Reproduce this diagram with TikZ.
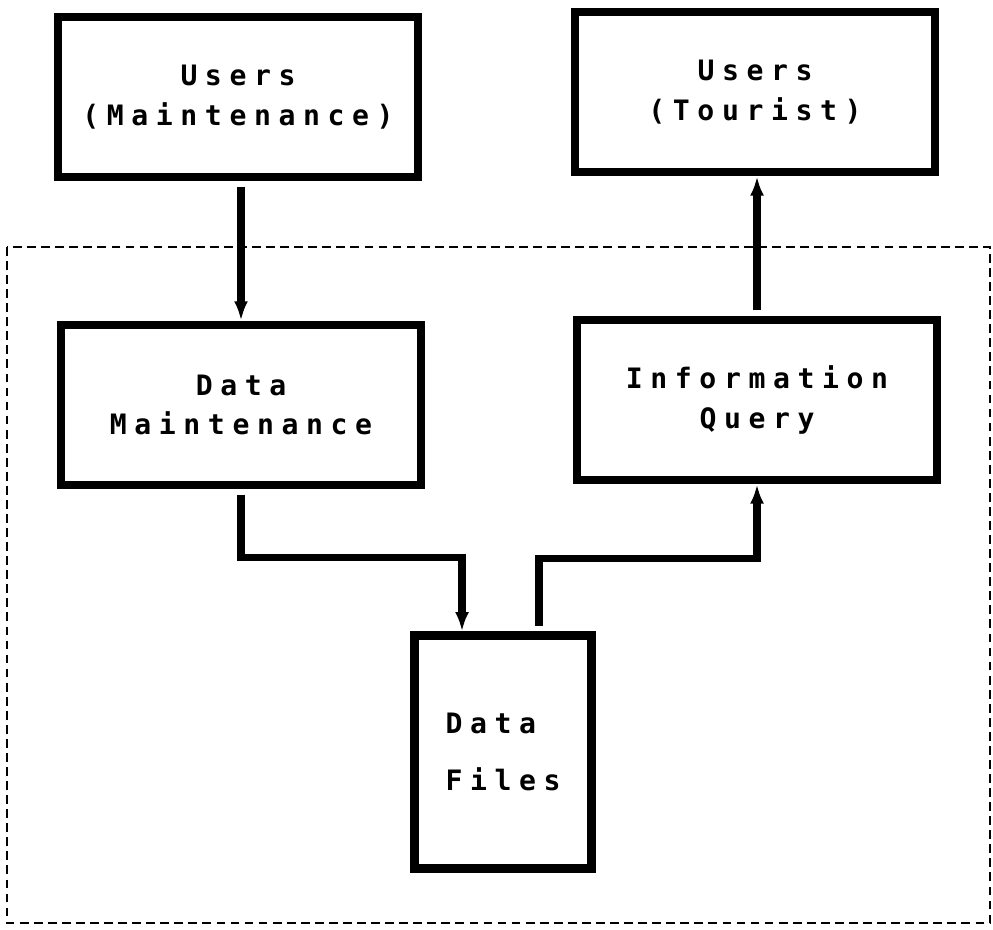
\documentclass[tikz,border=0pt]{standalone}
\usepackage{fontspec}
\newfontfamily\dotfont{DejaVu Sans Mono}[LetterSpace=27]
\usetikzlibrary{arrows.meta,calc}
\tikzset{%
	block/.style    = {draw, rectangle, line width=5pt, minimum width=7.2cm, minimum height=3.2cm, align=center, font=\dotfont\bfseries\fontsize{16}{22.5}\selectfont},
	filebox/.style  = {draw, rectangle, line width=5pt, minimum width=3.55cm, minimum height=4.65cm, align=left, font=\dotfont\bfseries\fontsize{16}{32}\selectfont},
	flow/.style     = {line width=4pt, shorten <=3pt, -{Latex[length=11pt,width=8pt]}},
	frame/.style    = {line width=1.5pt, dash pattern=on 5pt off 3pt},
}
\begin{document}
\begin{tikzpicture}[x=0.02cm,y=-0.02cm]
		\useasboundingbox (0,0) rectangle (993,929);
		\draw[frame] (7,247) rectangle (990,923);
		
		\node[block] (usermaint) at (238,97) {Users\\(Maintenance)};
		\node[block] (usertour) at (755,92) {Users\\(Tourist)};
		\node[block] (datamaint) at (241,405) {Data\\Maintenance};
		\node[block] (infoquery) at (757,400) {Information\\Query};
		\node[filebox] (datafiles) at (503,752) {Data\\Files};
		
		\draw[flow] (datamaint.north |- usermaint.south) -- (datamaint.north);
		\draw[flow] (datamaint.south) |- ($(datafiles.north)+(-41,-74)$) -- ($(datafiles.north)+(-41,0)$);
		\draw[flow] ($(datafiles.north)+(36,0)$) |- ($(infoquery.south)+(0,74)$) -- (infoquery.south);
		\draw[flow] (infoquery.north) -- (infoquery.north |- usertour.south);
\end{tikzpicture}
\end{document}
